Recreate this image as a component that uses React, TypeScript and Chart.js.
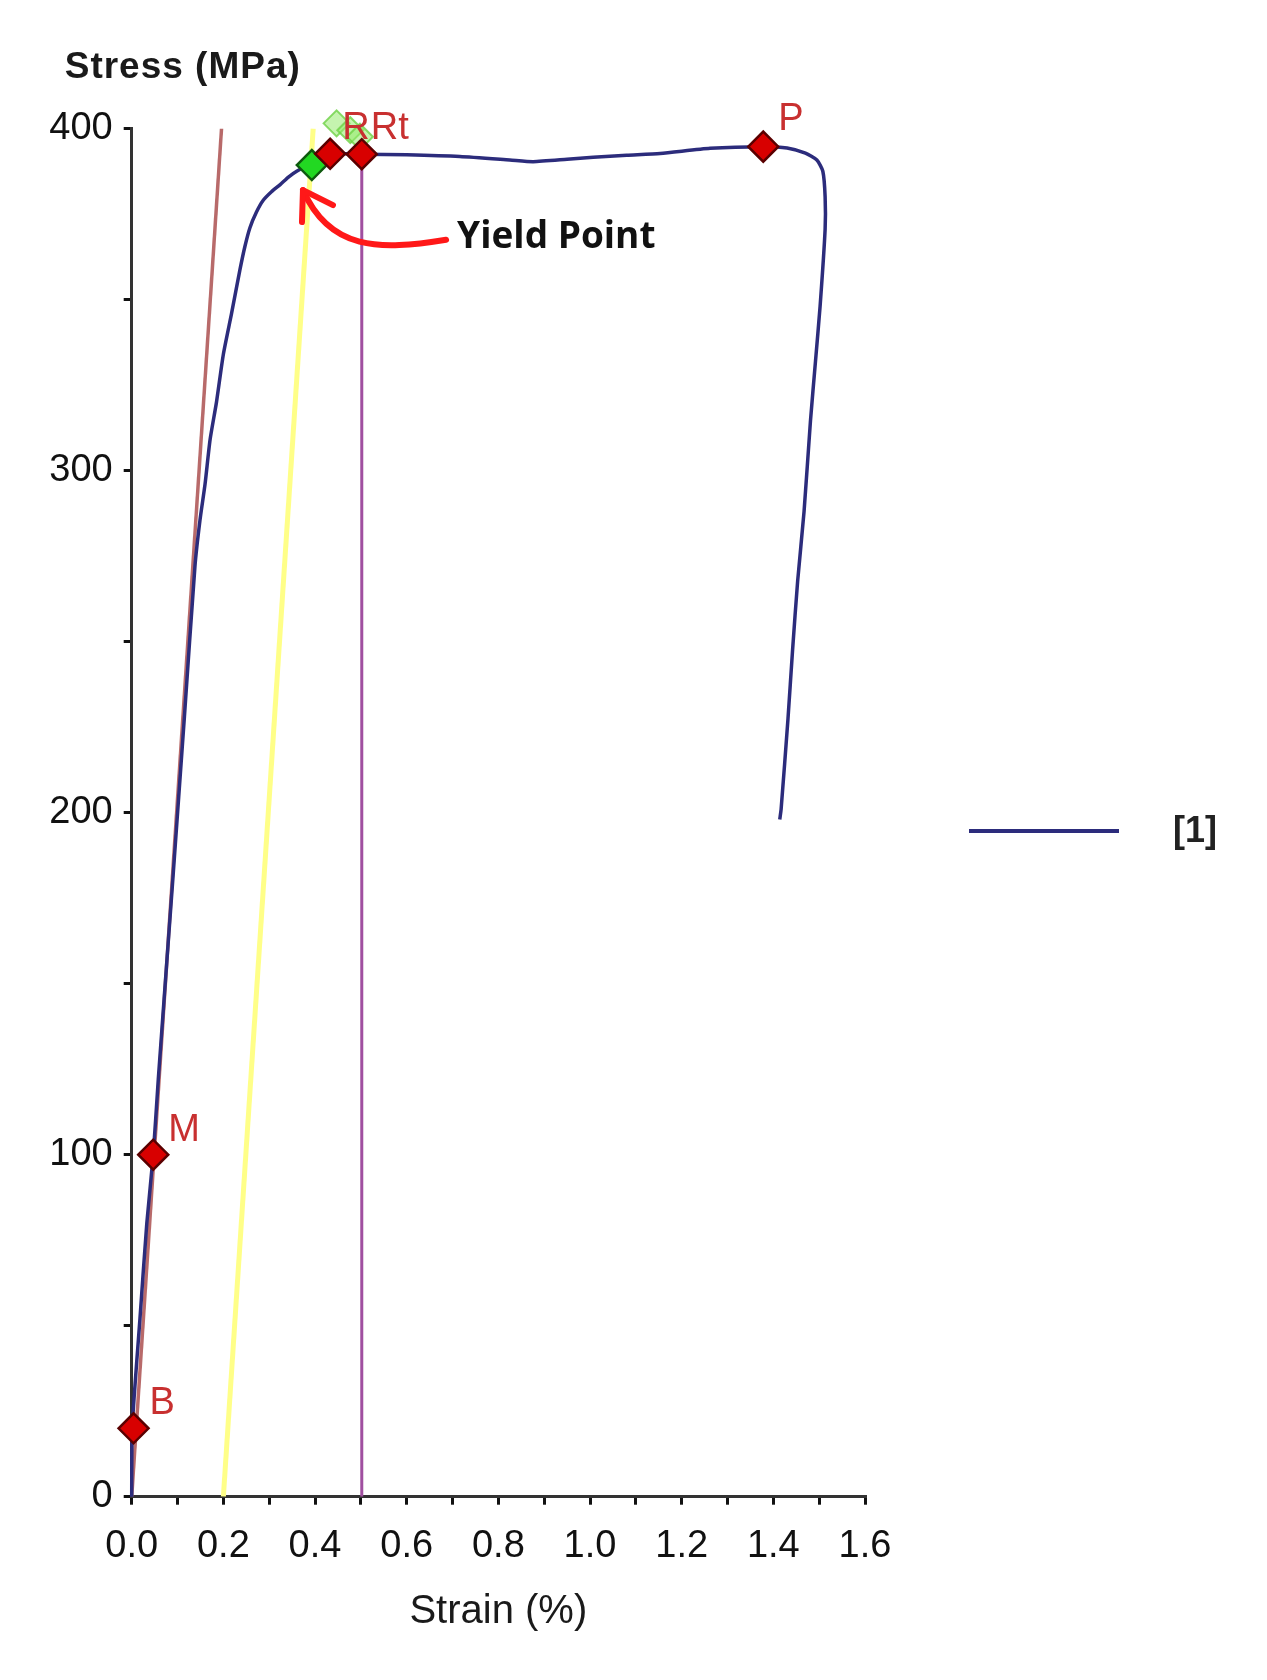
import React, { useEffect, useRef } from 'react';
import { Chart, registerables } from 'chart.js';

Chart.register(...registerables);

// ---------- data ----------
const curveStrain = [
  0, 0.001, 0.018, 0.033, 0.047, 0.058, 0.09, 0.115, 0.138, 0.149, 0.16, 0.171, 0.185, 0.2,
  0.218, 0.236, 0.247, 0.258, 0.272, 0.287, 0.305, 0.324, 0.342, 0.36, 0.377, 0.393, 0.433,
  0.47, 0.502, 0.6, 0.716, 0.825, 0.876, 0.95, 1.007, 1.08, 1.153, 1.262, 1.378, 1.43, 1.47,
  1.495, 1.508, 1.513, 1.513, 1.502, 1.492, 1.481, 1.467, 1.453, 1.442, 1.432, 1.417, 1.414,
];
const curveStress = [
  0, 20, 52, 80, 100, 122, 181, 228, 272, 285.5, 296, 309, 320, 334,
  346, 358.6, 365.5, 371, 375.5, 379, 381.5, 383.6, 385.8, 387.5, 388.6, 389.3, 392.5,
  392.6, 392.5, 392.3, 391.8, 390.8, 390.3, 391, 391.6, 392.2, 392.7, 394.2, 394.7, 394.3, 392.8,
  390.8, 387.5, 380, 370.6, 348, 332, 314.5, 288, 267.6, 247.6, 227.5, 201, 198,
];
const modulusStrain = [0, 0.196];
const modulusStress = [0, 400];
const offsetStrain = [0.2, 0.396];
const offsetStress = [0, 400];
const rtLineStrain = [0.502, 0.502];
const rtLineStress = [0, 392.5];
const markerLabels = ['B', 'M', 'R', 'Rt', 'P'];
const markerStrain = [0.004, 0.047, 0.433, 0.502, 1.378];
const markerStress = [20, 100, 392.6, 392.5, 394.7];
const yieldStrain = [0.393];
const yieldStress = [389.3];
const ghostStrain = [0.447, 0.477, 0.498];
const ghostStress = [401.5, 399.5, 397.6];
const legendLabel = '[1]';
const yTitle = 'Stress (MPa)';
const xTitle = 'Strain (%)';
const yieldText = 'Yield Point';

// ---------- helpers ----------
const pts = (xs: number[], ys: number[]) => xs.map((x, i) => ({ x, y: ys[i] }));

const FONT = "'Liberation Sans', Arial, sans-serif";
const BLUE = '#2c2c7c';
const MARKER_DS = 0;

// label offsets in px (left, baseline) relative to marker centre
const labelOffsets: [number, number][] = [
  [16, -14],
  [15, -14],
  [12, -15],
  [9, -15],
  [15, -17],
];

// annotation anchor points (data coords)
const arrowTip = { x: 0.3737, y: 382 };
const arrowStart = { x: 0.686, y: 367.5 };
const arrowC1 = { x: 0.54, y: 364.3 };
const arrowC2 = { x: 0.432, y: 364.3 };
const yieldTextPos = { x: 0.71, y: 365 };

const overlayPlugin = {
  id: 'overlay',
  afterDatasetsDraw(chart: any) {
    const { ctx, chartArea } = chart;
    const xs = chart.scales.x;
    const ys = chart.scales.y;
    ctx.save();

    // marker labels
    const meta = chart.getDatasetMeta(MARKER_DS);
    ctx.font = `38px ${FONT}`;
    ctx.fillStyle = '#c83030';
    ctx.textAlign = 'left';
    ctx.textBaseline = 'alphabetic';
    meta.data.forEach((el: any, i: number) => {
      const [dx, dy] = labelOffsets[i];
      ctx.fillText(markerLabels[i], el.x + dx, el.y + dy);
    });

    // y title (horizontal, above the axis)
    ctx.font = `bold 37px ${FONT}`;
    ctx.fillStyle = '#1a1a1a';
    (ctx as any).letterSpacing = '1px';
    ctx.fillText(yTitle, chartArea.left - 67, chartArea.top - 51);
    (ctx as any).letterSpacing = '0px';

    // yield point annotation
    const px = (p: { x: number; y: number }) => [xs.getPixelForValue(p.x), ys.getPixelForValue(p.y)];
    const [tx, ty] = px(arrowTip);
    const [sx, sy] = px(arrowStart);
    const [c1x, c1y] = px(arrowC1);
    const [c2x, c2y] = px(arrowC2);
    ctx.strokeStyle = '#ff1818';
    ctx.lineWidth = 6;
    ctx.lineCap = 'round';
    ctx.lineJoin = 'round';
    ctx.beginPath();
    ctx.moveTo(sx, sy);
    ctx.bezierCurveTo(c1x, c1y, c2x, c2y, tx, ty);
    ctx.stroke();
    ctx.beginPath();
    ctx.moveTo(tx + 30, ty + 15);
    ctx.lineTo(tx, ty);
    ctx.lineTo(tx - 1, ty + 32);
    ctx.stroke();

    const [yx, yy] = px(yieldTextPos);
    ctx.font = `bold 37px 'Open Sans', ${FONT}`;
    ctx.fillStyle = '#111';
    ctx.fillText(yieldText, yx, yy);

    // legend
    ctx.strokeStyle = BLUE;
    ctx.lineWidth = 4;
    ctx.lineCap = 'butt';
    ctx.beginPath();
    ctx.moveTo(961, 823);
    ctx.lineTo(1111, 823);
    ctx.stroke();
    ctx.font = `bold 36px ${FONT}`;
    ctx.fillStyle = '#222';
    ctx.textBaseline = 'middle';
    ctx.fillText(legendLabel, 1165, 824);

    ctx.restore();
  },
};

export default function App() {
  const ref = useRef<HTMLCanvasElement>(null);

  useEffect(() => {
    if (!ref.current) return;
    const chart = new Chart(ref.current, {
      type: 'scatter',
      data: {
        datasets: [
          {
            label: 'markers',
            data: pts(markerStrain, markerStress),
            showLine: false,
            pointStyle: 'rectRot',
            pointRadius: 15,
            pointBackgroundColor: '#d80000',
            pointBorderColor: '#5a0000',
            pointBorderWidth: 2.5,
            clip: false,
            order: 0,
          } as any,
          {
            label: 'yield',
            data: pts(yieldStrain, yieldStress),
            showLine: false,
            pointStyle: 'rectRot',
            pointRadius: 15,
            pointBackgroundColor: '#22d822',
            pointBorderColor: '#0e5a0e',
            pointBorderWidth: 2.5,
            clip: false,
            order: 1,
          },
          {
            label: 'ghost',
            data: pts(ghostStrain, ghostStress),
            showLine: false,
            pointStyle: 'rectRot',
            pointRadius: 13,
            pointBackgroundColor: 'rgba(150,235,110,0.55)',
            pointBorderColor: 'rgba(110,210,70,0.8)',
            pointBorderWidth: 2,
            clip: false,
            order: 2,
          },
          {
            label: '[1]',
            data: pts(curveStrain, curveStress),
            showLine: true,
            borderColor: BLUE,
            borderWidth: 3.5,
            pointRadius: 0,
            tension: 0.2,
            clip: false,
            order: 3,
          },
          {
            label: 'modulus',
            data: pts(modulusStrain, modulusStress),
            showLine: true,
            borderColor: '#b86a6a',
            borderWidth: 3.5,
            pointRadius: 0,
            order: 4,
          },
          {
            label: 'rt',
            data: pts(rtLineStrain, rtLineStress),
            showLine: true,
            borderColor: '#a04fa0',
            borderWidth: 3,
            pointRadius: 0,
            order: 5,
          },
          {
            label: 'offset',
            data: pts(offsetStrain, offsetStress),
            showLine: true,
            borderColor: '#ffff88',
            borderWidth: 5,
            pointRadius: 0,
            order: 6,
          },
        ],
      },
      options: {
        animation: false,
        responsive: false,
        devicePixelRatio: 1,
        layout: { padding: { left: 0, top: 120.5, right: 394, bottom: 0 } },
        plugins: { legend: { display: false }, tooltip: { enabled: false } },
        scales: {
          x: {
            type: 'linear',
            min: 0,
            max: 1.6,
            afterFit: (s: any) => {
              s.height = 175.3;
            },
            border: { color: '#333', width: 3 },
            grid: { drawOnChartArea: false, drawTicks: true, tickLength: 8, color: '#111', lineWidth: 3 },
            ticks: {
              stepSize: 0.1,
              autoSkip: false,
              maxRotation: 0,
              padding: 19,
              color: '#111',
              font: { family: FONT, size: 38 },
              callback: (v: any) => {
                const n = Math.round(Number(v) * 10);
                return n % 2 === 0 ? (n / 10).toFixed(1) : '';
              },
            },
            title: {
              display: true,
              text: xTitle,
              color: '#1a1a1a',
              font: { family: FONT, size: 40 },
              padding: { top: 0, bottom: 36 },
            },
          },
          y: {
            type: 'linear',
            min: 0,
            max: 400,
            afterFit: (s: any) => {
              s.width = 123.7;
            },
            border: { color: '#333', width: 3 },
            grid: { drawOnChartArea: false, drawTicks: true, tickLength: 8, color: '#111', lineWidth: 3 },
            ticks: {
              stepSize: 50,
              autoSkip: false,
              padding: 11,
              color: '#111',
              font: { family: FONT, size: 38 },
              callback: (v: any) => (Number(v) % 100 === 0 ? String(v) : ''),
            },
          },
        },
      } as any,
      plugins: [overlayPlugin],
    });
    return () => chart.destroy();
  }, []);

  return (
    <div style={{ width: 1251, height: 1664, position: 'relative' }}>
      <canvas ref={ref} width={1251} height={1664} style={{ display: 'block', width: 1251, height: 1664 }} />
    </div>
  );
}
